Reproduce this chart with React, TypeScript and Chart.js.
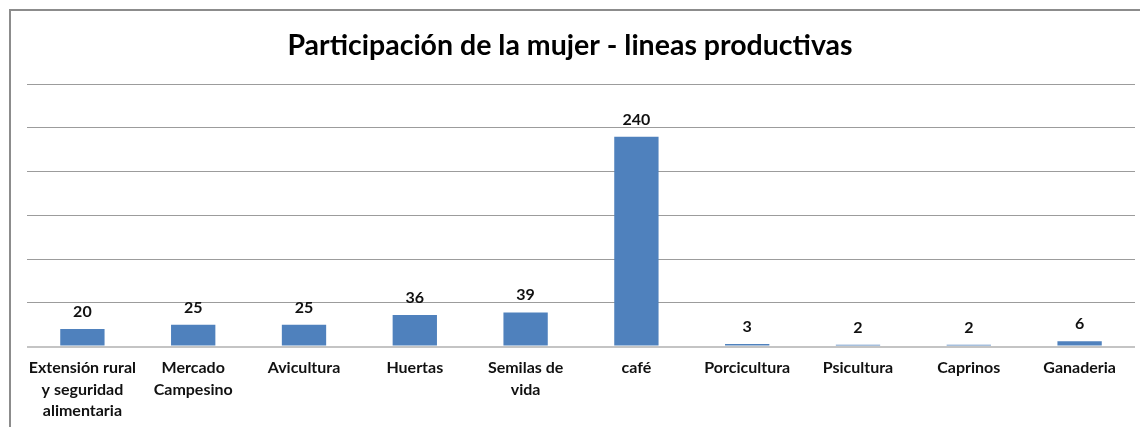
import React, { useEffect, useRef } from "react";
import { Chart, registerables } from "chart.js";

Chart.register(...registerables);

const categories: (string | string[])[] = [
  ["Extensión rural", "y seguridad", "alimentaria"],
  ["Mercado", "Campesino"],
  "Avicultura",
  "Huertas",
  ["Semilas de", "vida"],
  "café",
  "Porcicultura",
  "Psicultura",
  "Caprinos",
  "Ganaderia",
];
const values: number[] = [20, 25, 25, 36, 39, 240, 3, 2, 2, 6];
const titleText = "Participación de la mujer - lineas productivas";
const yMax = 300;
const yStep = 50;

const FONT = "Lato, 'Open Sans', sans-serif";

const valueLabels = {
  id: "valueLabels",
  afterDatasetsDraw(chart: any) {
    const ctx = chart.ctx;
    const meta = chart.getDatasetMeta(0);
    ctx.save();
    ctx.font = `bold 16px ${FONT}`;
    ctx.fillStyle = "#111";
    ctx.textAlign = "center";
    ctx.textBaseline = "alphabetic";
    meta.data.forEach((bar: any, i: number) => {
      ctx.fillText(String(values[i]), bar.x, bar.y - 12);
    });
    ctx.restore();
  },
};

export default function App() {
  const ref = useRef<HTMLCanvasElement | null>(null);
  useEffect(() => {
    if (!ref.current) return;
    const chart = new Chart(ref.current, {
      type: "bar",
      data: {
        labels: categories,
        datasets: [
          {
            data: values,
            backgroundColor: "#4F81BD",
            borderWidth: 0,
            categoryPercentage: 1,
            barPercentage: 0.4,
          },
        ],
      },
      options: {
        responsive: false,
        animation: false,
        layout: { padding: { left: 0, right: 0, top: 0, bottom: -6 } },
        plugins: {
          legend: { display: false },
          tooltip: { enabled: false },
          title: {
            display: true,
            text: titleText,
            color: "#000",
            font: { family: FONT, size: 28.5, weight: "bold", lineHeight: 1.2 },
            padding: { top: 29, bottom: 21 },
          },
        },
        scales: {
          x: {
            grid: { display: false, drawTicks: false },
            border: { display: false },
            ticks: {
              color: "#111",
              font: { family: FONT, size: 16, weight: "bold", lineHeight: "21.5px" as any },
              padding: 11,
              maxRotation: 0,
              autoSkip: false,
            },
          },
          y: {
            min: 0,
            max: yMax,
            afterFit: (s: any) => {
              s.width = 27;
            },
            ticks: { display: false, stepSize: yStep },
            border: { display: false },
            grid: {
              drawTicks: false,
              color: (c: any) => (c.tick && c.tick.value === 0 ? "#c4c4c4" : "#9c9c9c"),
              lineWidth: (c: any) => (c.tick && c.tick.value === 0 ? 2 : 1),
            },
          },
          y2: {
            position: "right",
            min: 0,
            max: yMax,
            afterFit: (s: any) => {
              s.width = 5;
            },
            ticks: { display: false },
            border: { display: false },
            grid: { display: false, drawTicks: false },
          },
        },
      },
      plugins: [valueLabels],
    });
    return () => chart.destroy();
  }, []);

  return (
    <div style={{ position: "fixed", left: 0, top: 0, width: 1140, height: 427, overflow: "hidden", background: "#fff" }}>
      <canvas ref={ref} width={1140} height={427} style={{ position: "absolute", left: 0, top: 0 }} />
      <div
        style={{
          position: "absolute",
          left: 9,
          top: 9,
          width: 1200,
          height: 500,
          border: "2px solid #8c8c8c",
          pointerEvents: "none",
        }}
      />
    </div>
  );
}
